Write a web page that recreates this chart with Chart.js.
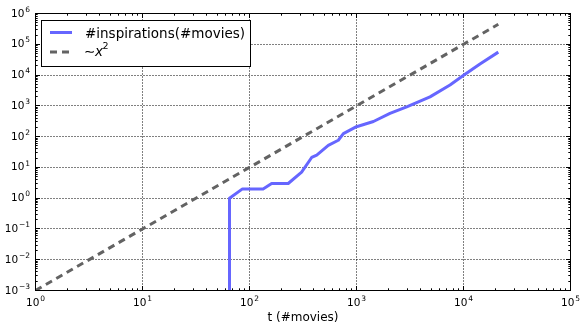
<!DOCTYPE html>
<html>
<head>
<meta charset="utf-8">
<script src="https://cdn.jsdelivr.net/npm/chart.js@4/dist/chart.umd.min.js"></script>
<style>
  html, body { margin: 0; padding: 0; background: #fff; }
  canvas { display: block; }
</style>
</head>
<body>
<canvas id="c" width="581" height="327"></canvas>
<script>
// Number of inspirations against number of movies, log-log
const movies        = [65, 65, 86, 134, 161, 230, 307, 381, 425, 545, 676, 754, 1000, 1440, 2055, 2945, 4864, 7480, 10100, 14260, 21150];
const inspirations  = [0, 1, 2, 2, 3, 3, 7, 21, 25, 52, 76, 125, 210, 310, 565, 930, 1960, 4770, 10000, 23000, 55600];

// Reference curve ~ x^2
const refX = [1, 10, 100, 1000, 10000, 21150];
const refY = [0.001, 0.1, 10, 1000, 100000, 447000];

// Axis decades (tick labels are 10^p)
const xTickPowers = [0, 1, 2, 3, 4, 5];
const yTickPowers = [-3, -2, -1, 0, 1, 2, 3, 4, 5, 6];

const seriesNames = ['#inspirations(#movies)', '\u223Cx2'];
const xTitle = 't (#movies)';

const FONT = '"DejaVu Sans", sans-serif';
const Y_MIN = Math.pow(10, yTickPowers[0]);
const Y_MAX = Math.pow(10, yTickPowers[yTickPowers.length - 1]);

// Non-positive values cannot sit on a log axis: pin them to the axis floor
function pointsOf(xs, ys) {
  return xs.map((x, i) => ({ x: x, y: ys[i] > 0 ? ys[i] : Y_MIN }));
}

function supText(exp) {
  return exp < 0 ? '\u2212' + (-exp) : String(exp);
}

// "10" with a raised exponent
function drawPower(ctx, exp, x, y, align) {
  const base = '10', sup = supText(exp);
  const baseFont = '10.5px ' + FONT, supFont = '7.5px ' + FONT;
  ctx.font = baseFont; const wb = ctx.measureText(base).width;
  ctx.font = supFont; const ws = ctx.measureText(sup).width;
  const gap = 0.8;
  const total = wb + gap + ws;
  const x0 = align === 'right' ? x - total : x - total / 2;
  ctx.textAlign = 'left';
  ctx.textBaseline = 'alphabetic';
  ctx.fillStyle = '#000';
  ctx.font = baseFont; ctx.fillText(base, x0, y);
  ctx.font = supFont; ctx.fillText(sup, x0 + wb + gap, y - 4.8);
}

const crisp = v => Math.round(v - 0.5) + 0.5;

// Dotted grid at the decades, underneath the data
const gridPlugin = {
  id: 'decadeGrid',
  beforeDatasetsDraw(chart) {
    const { ctx, chartArea: a, scales: { x, y } } = chart;
    ctx.save();
    ctx.strokeStyle = '#000';
    ctx.lineWidth = 1;
    ctx.setLineDash([1, 2]);
    x.ticks.forEach(t => {
      const px = crisp(x.getPixelForValue(t.value));
      ctx.beginPath(); ctx.moveTo(px, a.top); ctx.lineTo(px, a.bottom); ctx.stroke();
    });
    y.ticks.forEach(t => {
      const py = crisp(y.getPixelForValue(t.value));
      ctx.beginPath(); ctx.moveTo(a.left, py); ctx.lineTo(a.right, py); ctx.stroke();
    });
    ctx.restore();
  }
};

// Frame, inward tick marks on all sides, tick labels, axis title, legend
const framePlugin = {
  id: 'frameAndLegend',
  afterDraw(chart) {
    const { ctx, chartArea: a, scales: { x, y } } = chart;
    ctx.save();
    ctx.setLineDash([]);
    ctx.strokeStyle = '#000';
    ctx.lineWidth = 1;

    const majorLen = 4.5, minorLen = 2.2;
    const xMajor = x.ticks.map(t => t.value);
    const yMajor = y.ticks.map(t => t.value);

    const xTick = (v, len) => {
      const px = crisp(x.getPixelForValue(v));
      ctx.beginPath();
      ctx.moveTo(px, a.bottom); ctx.lineTo(px, a.bottom - len);
      ctx.moveTo(px, a.top); ctx.lineTo(px, a.top + len);
      ctx.stroke();
    };
    const yTick = (v, len) => {
      const py = crisp(y.getPixelForValue(v));
      ctx.beginPath();
      ctx.moveTo(a.left, py); ctx.lineTo(a.left + len, py);
      ctx.moveTo(a.right, py); ctx.lineTo(a.right - len, py);
      ctx.stroke();
    };
    xMajor.forEach(v => xTick(v, majorLen));
    yMajor.forEach(v => yTick(v, majorLen));
    for (let i = 0; i < xMajor.length - 1; i++)
      for (let m = 2; m <= 9; m++) xTick(m * xMajor[i], minorLen);
    for (let i = 0; i < yMajor.length - 1; i++)
      for (let m = 2; m <= 9; m++) yTick(m * yMajor[i], minorLen);

    ctx.strokeRect(a.left, a.top, a.right - a.left, a.bottom - a.top);

    // tick labels
    xTickPowers.forEach(p => drawPower(ctx, p, x.getPixelForValue(Math.pow(10, p)), a.bottom + 15, 'center'));
    yTickPowers.forEach(p => drawPower(ctx, p, a.left - 5.5, y.getPixelForValue(Math.pow(10, p)) + 3, 'right'));

    // axis title
    ctx.font = '12px ' + FONT;
    ctx.textAlign = 'center';
    ctx.textBaseline = 'alphabetic';
    ctx.fillStyle = '#000';
    ctx.fillText(xTitle, (a.left + a.right) / 2, 321);

    // legend
    const lx = a.left + 6, ly = a.top + 7, lw = 209, lh = 46;
    ctx.fillStyle = '#fff';
    ctx.fillRect(lx, ly, lw, lh);
    ctx.strokeStyle = '#000';
    ctx.lineWidth = 1;
    ctx.strokeRect(lx, ly, lw, lh);

    const ds = chart.data.datasets;
    const hx0 = lx + 8.5, hx1 = lx + 30.5, tx = lx + 43.5;
    const rows = [ly + 12, ly + 31.5];
    ds.forEach((d, i) => {
      ctx.save();
      ctx.strokeStyle = d.borderColor;
      ctx.lineWidth = d.borderWidth;
      ctx.lineCap = 'butt';
      ctx.setLineDash(d.borderDash || []);
      ctx.beginPath(); ctx.moveTo(hx0, rows[i]); ctx.lineTo(hx1, rows[i]); ctx.stroke();
      ctx.restore();
    });
    ctx.fillStyle = '#000';
    ctx.textAlign = 'left';
    ctx.textBaseline = 'alphabetic';
    ctx.font = '13.5px ' + FONT;
    ctx.fillText(seriesNames[0], tx, rows[0] + 5);
    // ~x^2 with italic x and raised 2
    const r2 = rows[1] + 3.5;
    ctx.font = '13.5px ' + FONT;
    ctx.fillText(seriesNames[1].charAt(0), tx - 1, r2);
    ctx.font = 'italic 13.5px ' + FONT;
    ctx.fillText(seriesNames[1].charAt(1), tx + 10, r2);
    ctx.font = '9.5px ' + FONT;
    ctx.fillText(seriesNames[1].charAt(2), tx + 17.5, r2 - 6.5);
    ctx.restore();
  }
};

new Chart(document.getElementById('c'), {
  type: 'line',
  data: {
    datasets: [
      {
        label: seriesNames[0],
        data: pointsOf(movies, inspirations),
        borderColor: '#6666ff',
        borderWidth: 3,
        borderJoinStyle: 'round',
        borderCapStyle: 'butt',
        pointRadius: 0,
        tension: 0,
        fill: false
      },
      {
        label: seriesNames[1],
        data: pointsOf(refX, refY),
        borderColor: '#636363',
        borderWidth: 3,
        borderDash: [7, 5],
        borderCapStyle: 'butt',
        pointRadius: 0,
        tension: 0,
        fill: false
      }
    ]
  },
  options: {
    responsive: false,
    animation: false,
    devicePixelRatio: 1,
    layout: { padding: { top: 13.5, right: 10.5, left: 0, bottom: 0 } },
    plugins: { legend: { display: false }, tooltip: { enabled: false } },
    scales: {
      x: {
        type: 'logarithmic',
        position: 'bottom',
        min: Math.pow(10, xTickPowers[0]),
        max: Math.pow(10, xTickPowers[xTickPowers.length - 1]),
        grid: { display: false },
        border: { display: false },
        ticks: { display: false },
        afterBuildTicks: s => { s.ticks = xTickPowers.map(p => ({ value: Math.pow(10, p) })); },
        afterFit: s => { s.height = 36.5; }
      },
      y: {
        type: 'logarithmic',
        position: 'left',
        min: Y_MIN,
        max: Y_MAX,
        grid: { display: false },
        border: { display: false },
        ticks: { display: false },
        afterBuildTicks: s => { s.ticks = yTickPowers.map(p => ({ value: Math.pow(10, p) })); },
        afterFit: s => { s.width = 35.5; }
      }
    }
  },
  plugins: [gridPlugin, framePlugin]
});
</script>
</body>
</html>
